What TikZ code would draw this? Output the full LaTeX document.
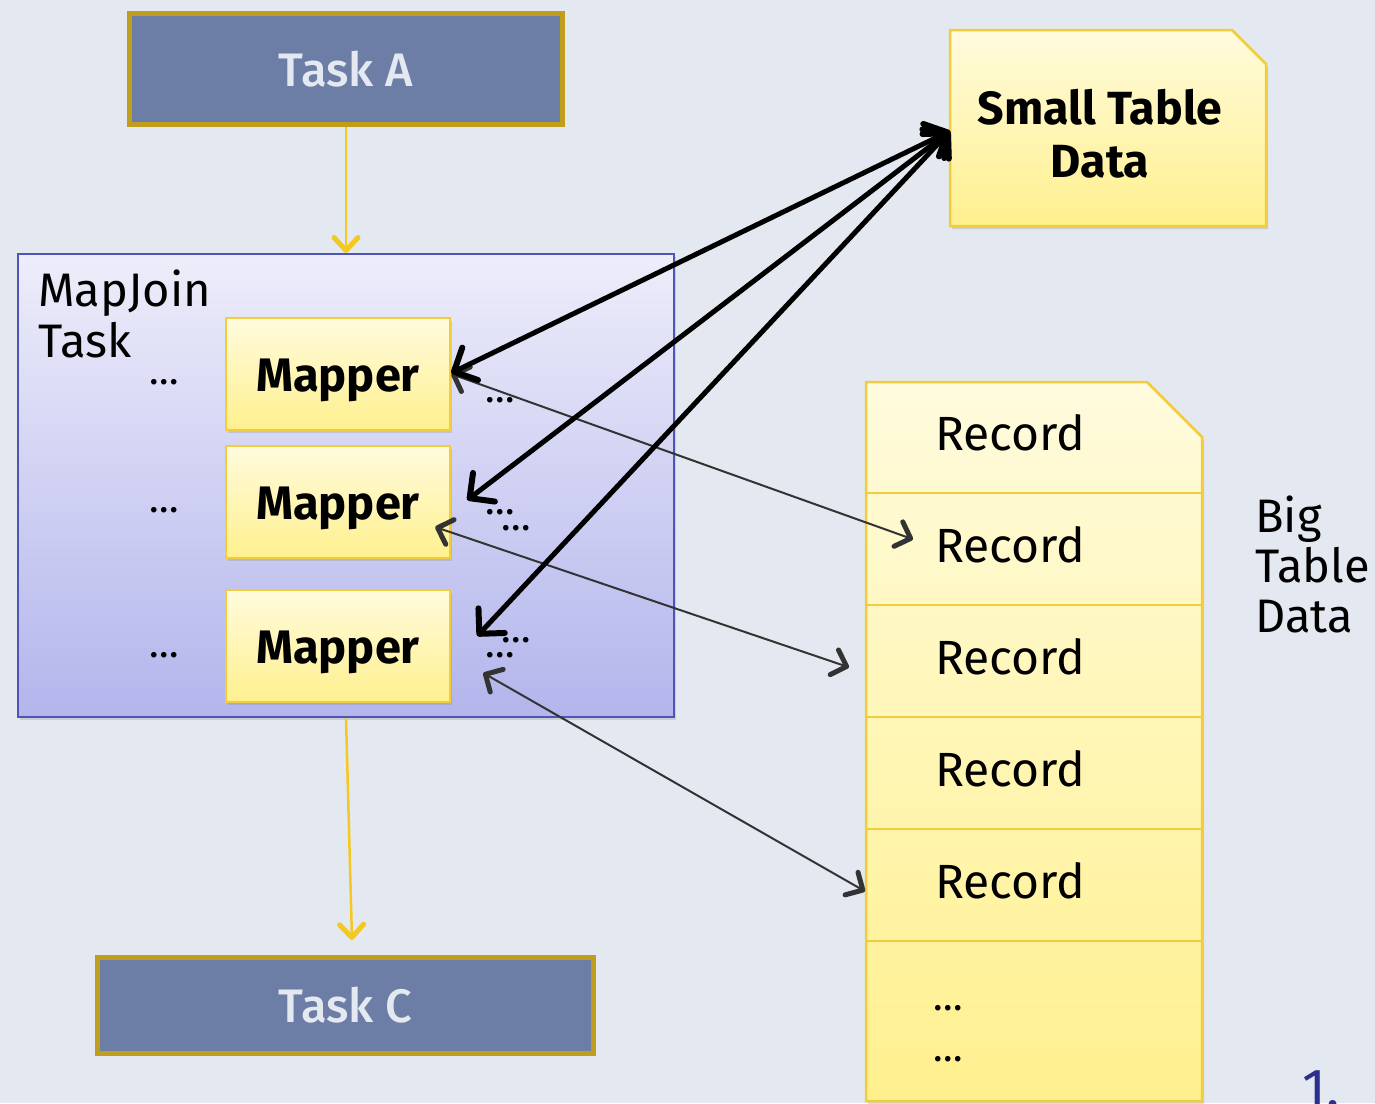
\documentclass[tikz,border=0pt]{standalone}
\usepackage{fontspec}
\setmainfont{Fira Sans}
\newfontfamily\medfont{Fira Sans Medium}
\usetikzlibrary{arrows.meta,shadows,calc}

\definecolor{bgblue}{HTML}{E4E9F1}
\definecolor{taskfill}{HTML}{6C7EA6}
\definecolor{taskrim}{HTML}{C19D1E}
\definecolor{tasktext}{HTML}{E4E9F1}
\definecolor{jobtop}{HTML}{EDEDFA}
\definecolor{jobbottom}{HTML}{B3B5EC}
\definecolor{jobrim}{HTML}{4E55B5}
\definecolor{noteTop}{HTML}{FFFBDD}
\definecolor{noteBottom}{HTML}{FFF08E}
\definecolor{noteRim}{HTML}{F2CC3A}
\definecolor{flowyellow}{HTML}{F3C823}
\definecolor{linkgray}{HTML}{333333}
\definecolor{navy}{HTML}{2B2F8F}

\begin{document}
\begin{tikzpicture}[x=1pt,y=-1pt,
  softshadow/.style={drop shadow={opacity=0.25,shadow xshift=2pt,shadow yshift=-3pt}},
  taskbox/.style={draw=taskrim,line width=5pt,fill=taskfill,text=tasktext,
    font=\medfont\fontsize{47}{56}\selectfont,inner sep=0pt},
  jobbox/.style={draw=jobrim,line width=2pt,top color=jobtop,bottom color=jobbottom,
    softshadow,inner sep=0pt},
  mapperbox/.style={draw=noteRim,line width=2.5pt,top color=noteTop,bottom color=noteBottom,
    softshadow,minimum width=224pt,minimum height=112pt,inner sep=0pt,
    font=\bfseries\fontsize{47}{56}\selectfont,text height=35pt,text depth=0pt},
  notefill/.style={draw=noteRim,line width=2.5pt,top color=noteTop,bottom color=noteBottom,softshadow},
  plainlabel/.style={font=\fontsize{47}{56}\selectfont,inner sep=0pt},
  recordlabel/.style={font=\fontsize{48}{56}\selectfont,inner sep=0pt,anchor=base west},
  boldlabel/.style={font=\bfseries\fontsize{46.5}{54}\selectfont,inner sep=0pt,anchor=base},
  dots/.style={font=\fontsize{40}{48}\selectfont,inner sep=0pt},
  flow/.style={draw=flowyellow,line width=2.5pt,
    -{Straight Barb[length=13pt,width=24pt,line width=5pt,round]}},
  thicklink/.style={draw=black,line width=5pt,
    {Straight Barb[length=18pt,width=36pt,line width=6pt,round]}-{Straight Barb[length=18pt,width=36pt,line width=6pt,round]}},
  thinlink/.style={draw=linkgray,line width=2pt,
    {Straight Barb[length=13pt,width=26pt,line width=5pt,round]}-{Straight Barb[length=13pt,width=26pt,line width=5pt,round]}}
]
\useasboundingbox (0,0) rectangle (1375,1103);
\clip (0,0) rectangle (1375,1103);
\fill[bgblue] (0,0) rectangle (1375,1103);

% upstream and downstream tasks
\node[taskbox,minimum width=433pt,minimum height=111pt] (taskA) at (346,69) {Task A};
\node[taskbox,minimum width=496pt,minimum height=96pt] (taskC) at (345.5,1005.5) {Task C};

% map-join task container with its mappers
\node[jobbox,minimum width=656pt,minimum height=463pt] (job) at (346,485.5) {};
\node[plainlabel,anchor=base west] (jobA) at (38,306) {MapJoin};
\node[plainlabel,anchor=base west] (jobB) at (38,357) {Task};

\node[mapperbox] (m1) at (338,374) {Mapper};
\node[mapperbox] (m2) at (338,502) {Mapper};
\node[mapperbox] (m3) at (338,646) {Mapper};

\node[dots] (dl1) at (164,382) {…};
\node[dots] (dl2) at (164,510) {…};
\node[dots] (dl3) at (164,655) {…};
\node[dots] (dr1) at (500,400) {…};
\node[dots] (dr2) at (500,512) {…};
\node[dots] (dr3) at (516,528) {…};
\node[dots] (dr4) at (516,640) {…};
\node[dots] (dr5) at (500,655) {…};

% small table note
\path[notefill] (950,30) -- (1232,30) -- (1266,64) -- (1266,226) -- (950,226) -- cycle;
\coordinate (small) at (950,131);
\node[boldlabel] (smallA) at (1100,124) {Small Table};
\node[boldlabel] (smallB) at (1100,177) {Data};

% big table with its records
\path[notefill] (866,382) -- (1147,382) -- (1202,437) -- (1202,1101) -- (866,1101) -- cycle;
\foreach \y in {493,605,717,829,941}
  \draw[noteRim,line width=2pt] (867,\y) -- (1201,\y);
\node[recordlabel] (r1) at (935,450) {Record};
\node[recordlabel] (r2) at (935,562) {Record};
\node[recordlabel] (r3) at (935,674) {Record};
\node[recordlabel] (r4) at (935,786) {Record};
\node[recordlabel] (r5) at (935,898) {Record};
\node[dots] (rd1) at (948,1008) {…};
\node[dots] (rd2) at (948,1059) {…};

\node[plainlabel,anchor=base west] (bigA) at (1255,532) {Big};
\node[plainlabel,anchor=base west] (bigB) at (1255,582) {Table};
\node[plainlabel,anchor=base west] (bigC) at (1255,632) {Data};

\node[font=\fontsize{55}{64}\selectfont,text=navy,inner sep=0pt,anchor=base west] (pagenum) at (1302,1107) {1.};

% task flow
\draw[flow] (taskA.south) -- (job.north);
\draw[flow] (job.south) -- ($(taskC.north)+(6.5,-15)$);

% record reads
\draw[thinlink] (m1.east) -- ($(r2.west)+(-22,-5)$);
\draw[thinlink] ($(m2.east)+(-16,25)$) -- ($(r3.west)+(-86,11)$);
\draw[thinlink] ($(m3.east)+(32,27)$) -- ($(r5.west)+(-70,11)$);

% small table broadcast
\draw[thicklink] (small) -- ($(m1.east)+(0,-1)$);
\draw[thicklink] (small) -- ($(m2.east)+(16,-2)$);
\draw[thicklink] (small) -- ($(m3.east)+(26,-10)$);
\end{tikzpicture}
\end{document}
